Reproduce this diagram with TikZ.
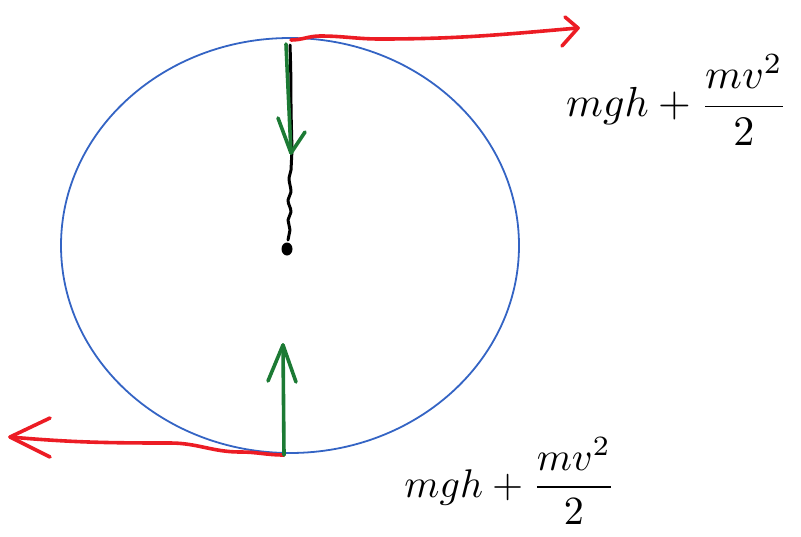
\documentclass[tikz,border=0pt]{standalone}
\usepackage{amsmath}
\usepackage{graphicx}
\begin{document}
\begin{tikzpicture}[x=1pt,y=-1pt,
  inkred/.style={draw={rgb,255:red,236;green,28;blue,36},line width=3.6pt,line cap=round,line join=round},
  inkgreen/.style={draw={rgb,255:red,28;green,122;blue,52},line width=3.6pt,line cap=round,line join=round},
  inkblack/.style={draw=black,line width=3pt,line cap=round,line join=round},
  inkblue/.style={draw={rgb,255:red,52;green,100;blue,196},line width=1.8pt},
  lbl/.style={inner sep=0pt}]
\useasboundingbox (0,0) rectangle (801,536);
% circle
\draw[inkblue] (290,245.5) ellipse [x radius=229, y radius=207.5];
% named points
\coordinate (top) at (291,40);
\coordinate (bot) at (284,455);
\coordinate (rtip) at (578,28);
\coordinate (ltip) at (10,437);
\coordinate (mass) at (287,249);
% top red arrow
\draw[inkred] (top) to[out=0,in=180] (320,36) to[out=0,in=180] (380,39) to[out=0,in=185] (rtip);
\draw[inkred] (565,17) -- (rtip) -- (562,46);
% bottom red arrow
\draw[inkred] (bot) to[out=180,in=0] (240,452) to[out=180,in=0] (170,443) to[out=180,in=-5] (ltip);
\draw[inkred] (50,418) -- (ltip) -- (50,457);
% black string with mass
\draw[inkblack] (290,45) to[out=-88,in=90] (291,110) -- (292,150) -- (291,170)
  to[out=-90,in=90] (289,178) to[out=-90,in=90] (291,192) to[out=-90,in=90] (288,200)
  to[out=-90,in=90] (291,212) to[out=-90,in=90] (288,220) to[out=-90,in=90] (290,230) to[out=-90,in=90] (288,240);
\fill[black] (mass) ellipse [x radius=5.5, y radius=6.5];
% green arrows
\coordinate (gtip) at (291,153);
\draw[inkgreen] (286,44) -- (gtip);
\draw[inkgreen] (278,118) -- (gtip) -- (305,132);
\coordinate (g2tip) at (283,345);
\draw[inkgreen] (bot) -- (g2tip);
\draw[inkgreen] (268,381) -- (g2tip) -- (296,382);
% labels
\node[lbl] (ltop) at (677,100) {\scalebox{4.2}{$mgh+\dfrac{mv^2}{2}$}};
\node[lbl] (lbot) at (510,481) {\scalebox{4.0}{$mgh+\dfrac{mv^2}{2}$}};
\end{tikzpicture}
\end{document}
